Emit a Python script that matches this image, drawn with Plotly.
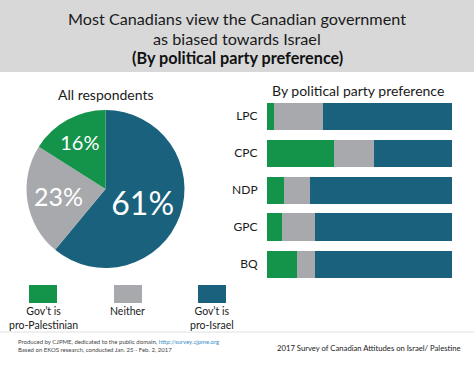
import plotly.graph_objects as go

W, H = 474, 366
FONT = "Lato"

# ---- data ----
title_lines = ["Most Canadians view the Canadian government", "as biased towards Israel"]
title_bold = "(By political party preference)"
pie_title = "All respondents"
bar_title = "By political party preference"

categories = ["Gov\u2019t is pro-Israel", "Neither", "Gov\u2019t is pro-Palestinian"]
all_respondents = [61, 23, 16]

parties = ["LPC", "CPC", "NDP", "GPC", "BQ"]
pro_palestinian = [4, 36, 9, 8, 16]
neither = [26, 22, 14, 18, 10]
pro_israel = [70, 42, 77, 74, 74]

legend_labels = ["Gov\u2019t is<br>pro-Palestinian", "Neither", "Gov\u2019t is<br>pro-Israel"]

footer_left = ("Produced by CJPME, dedicated to the public domain, "
               "<span style='color:#3b8fc9'>http://survey.cjpme.org</span><br>"
               "Based on EKOS research, conducted Jan. 25 - Feb. 2, 2017")
footer_right = "2017 Survey of Canadian Attitudes on Israel/ Palestine"

# ---- styles ----
GREEN = "#14934a"
GRAY = "#a8a9ad"
BLUE = "#19617d"


def py(px):
    return 1 - px / H


def pxx(px):
    return px / W


fig = go.Figure()

fig.add_trace(go.Pie(
    values=all_respondents,
    labels=categories,
    marker=dict(colors=[BLUE, GRAY, GREEN], line=dict(width=0)),
    sort=False,
    direction="clockwise",
    rotation=0,
    texttemplate="%{value}%",
    textposition="inside",
    insidetextorientation="horizontal",
    textfont=dict(family=FONT, color="white", size=[32, 25, 20]),
    domain=dict(x=[pxx(25), pxx(186)], y=[py(268), py(110)]),
    showlegend=False,
    hoverinfo="skip",
))

for vals, col, name in [(pro_palestinian, GREEN, categories[2]),
                        (neither, GRAY, categories[1]),
                        (pro_israel, BLUE, categories[0])]:
    fig.add_trace(go.Bar(
        y=parties, x=vals, orientation="h", name=name,
        marker=dict(color=col, line=dict(width=0)),
        showlegend=False, hoverinfo="skip",
    ))

fig.update_layout(
    width=W, height=H,
    margin=dict(l=0, r=0, t=0, b=0),
    paper_bgcolor="white", plot_bgcolor="white",
    barmode="stack", bargap=0.27,
    font=dict(family=FONT, color="#1a1a1a"),
    xaxis=dict(domain=[pxx(267), pxx(452)], range=[0, 100], visible=False, fixedrange=True),
    yaxis=dict(domain=[py(282.5), py(97.5)], autorange="reversed",
               showgrid=False, zeroline=False, showline=False,
               ticks="outside", ticklen=6, tickcolor="rgba(0,0,0,0)",
               tickfont=dict(family=FONT, size=12, color="#1a1a1a")),
)

shapes = [
    dict(type="rect", xref="paper", yref="paper", x0=0, x1=1, y0=py(72), y1=1,
         fillcolor="#d8d8d9", line=dict(width=0), layer="below"),
    dict(type="line", xref="paper", yref="paper", x0=0, x1=1, y0=py(332), y1=py(332),
         line=dict(color="#e0e0e0", width=1)),
]

annotations = []
for i, t in enumerate(title_lines):
    annotations.append(dict(text=t, x=0.5, y=py(18 + 20 * i), xref="paper", yref="paper",
                            showarrow=False, xanchor="center", yanchor="middle",
                            font=dict(family=FONT, size=16.2, color="#1a1a1a")))
annotations.append(dict(text="<b>" + title_bold + "</b>", x=0.5, y=py(58), xref="paper", yref="paper",
                        showarrow=False, xanchor="center", yanchor="middle",
                        font=dict(family=FONT, size=16.2, color="#111")))
annotations.append(dict(text=pie_title, x=pxx(106), y=py(94), xref="paper", yref="paper",
                        showarrow=False, xanchor="center", yanchor="middle",
                        font=dict(family=FONT, size=14, color="#1a1a1a")))
annotations.append(dict(text=bar_title, x=pxx(358), y=py(90), xref="paper", yref="paper",
                        showarrow=False, xanchor="center", yanchor="middle",
                        font=dict(family=FONT, size=14, color="#1a1a1a")))

legend_cols = [GREEN, GRAY, BLUE]
legend_x = [43, 128, 212]
for lab, col, cx in zip(legend_labels, legend_cols, legend_x):
    shapes.append(dict(type="rect", xref="paper", yref="paper",
                       x0=pxx(cx - 14), x1=pxx(cx + 14), y0=py(303), y1=py(285),
                       fillcolor=col, line=dict(width=0)))
    annotations.append(dict(text=lab, x=pxx(cx), y=py(303), xref="paper", yref="paper",
                            showarrow=False, xanchor="center", yanchor="top",
                            font=dict(family=FONT, size=10.5, color="#1a1a1a")))

annotations.append(dict(text=footer_left, x=pxx(16), y=py(345), xref="paper", yref="paper",
                        showarrow=False, xanchor="left", yanchor="middle", align="left",
                        font=dict(family=FONT, size=6, color="#444")))
annotations.append(dict(text=footer_right, x=pxx(463), y=py(348), xref="paper", yref="paper",
                        showarrow=False, xanchor="right", yanchor="middle",
                        font=dict(family=FONT, size=7.7, color="#222")))

fig.update_layout(shapes=shapes, annotations=annotations)

fig.write_html("out.html", config={"displayModeBar": False},
               post_script="document.body.style.margin='0';document.body.style.overflow='hidden';")
